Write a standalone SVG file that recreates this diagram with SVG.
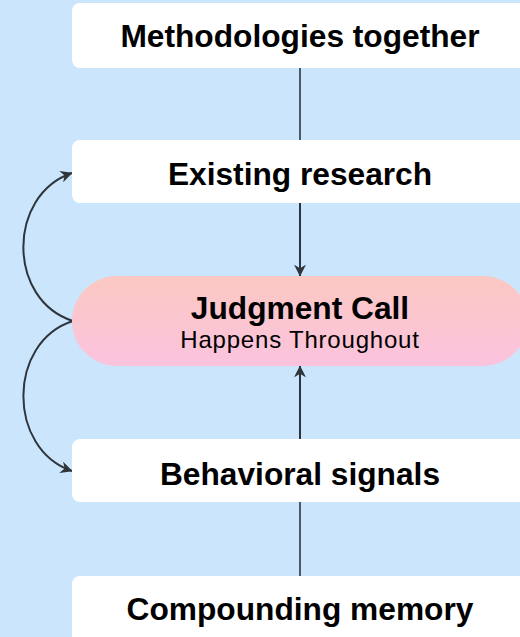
<svg xmlns="http://www.w3.org/2000/svg" width="520" height="637" viewBox="0 0 520 637">
<defs>
<linearGradient id="pillGrad" x1="0" y1="0" x2="0" y2="1">
<stop offset="0" stop-color="#fbc8c2"/>
<stop offset="1" stop-color="#fbc3de"/>
</linearGradient>
<marker id="arrow" viewBox="0 0 10 10" refX="9.5" refY="5" markerWidth="12" markerHeight="12" markerUnits="userSpaceOnUse" orient="auto">
<path d="M0,0 L10,5 L0,10 L3,5 Z" fill="#2f353b"/>
</marker>
</defs>
<style>
.box{fill:#ffffff;}
.title{font-family:"Liberation Sans",Arial,sans-serif;font-weight:bold;font-size:31.7px;fill:#000;text-anchor:middle;}
.sub{font-family:"Liberation Sans",Arial,sans-serif;font-size:24px;fill:#000;text-anchor:middle;letter-spacing:0.8px;}
.line{fill:none;stroke:#2f353b;stroke-width:1.6;}
.arr{fill:none;stroke:#2f353b;stroke-width:2;}
</style>
<rect x="0" y="0" width="520" height="637" fill="#cae5fc"/>
<g id="connectors">
<line class="line" x1="300" y1="68" x2="300" y2="140"/>
<line class="arr" x1="300" y1="203" x2="300" y2="276" marker-end="url(#arrow)"/>
<line class="arr" x1="300" y1="439" x2="300" y2="366" marker-end="url(#arrow)"/>
<line class="line" x1="300" y1="502" x2="300" y2="576"/>
<path class="arr" d="M73,321 C7,300 7,195 72,173" marker-end="url(#arrow)"/>
<path class="arr" d="M73,321 C7,342 7,449 72,471" marker-end="url(#arrow)"/>
</g>
<g id="node-methodologies">
<rect class="box" x="72" y="3" width="456" height="65" rx="8"/>
<text class="title" x="300" y="47">Methodologies together</text>
</g>
<g id="node-existing">
<rect class="box" x="72" y="140" width="456" height="63" rx="8"/>
<text class="title" x="300" y="185">Existing research</text>
</g>
<g id="node-judgment">
<rect x="72" y="276" width="456" height="90" rx="45" fill="url(#pillGrad)"/>
<text class="title" x="300" y="319">Judgment Call</text>
<text class="sub" x="300" y="348">Happens Throughout</text>
</g>
<g id="node-behavioral">
<rect class="box" x="72" y="439" width="456" height="63" rx="8"/>
<text class="title" x="300" y="485">Behavioral signals</text>
</g>
<g id="node-compounding">
<rect class="box" x="72" y="576" width="456" height="70" rx="8"/>
<text class="title" x="300" y="620">Compounding memory</text>
</g>
</svg>
